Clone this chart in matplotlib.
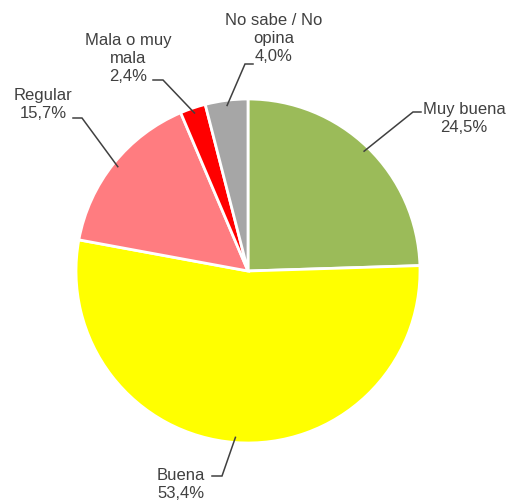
import numpy as np
import matplotlib
matplotlib.use("Agg")
import matplotlib.pyplot as plt

categories = ["Muy buena", "Buena", "Regular", "Mala o muy\nmala", "No sabe / No\nopina"]
values = [24.5, 53.4, 15.7, 2.4, 4.0]
value_labels = ["24,5%", "53,4%", "15,7%", "2,4%", "4,0%"]
colors = ["#9BBB59", "#FFFF00", "#FF7C80", "#FF0000", "#A6A6A6"]

W, H = 511, 501
fig = plt.figure(figsize=(W / 100, H / 100), dpi=100)
ax = fig.add_axes([0, 0, 1, 1])

cx, cy, r = 248, H - 271, 172
wedges, _ = ax.pie(values, colors=colors, startangle=90, counterclock=False,
                   center=(cx, cy), radius=r, frame=True,
                   wedgeprops=dict(edgecolor="white", linewidth=2))
ax.set_xlim(0, W)
ax.set_ylim(0, H)
ax.axis("off")

# label layout (pixel coords from top): text center, elbow point, end point
text_pos = [(464, 118), (181, 484), (43, 104), (128, 58), (274, 38)]
elbows = [(413, 112), (222, 476), (82, 118), (163, 80), (245, 64)]
ends = [(421, 112), (212, 476), (73, 118), (153, 80), (253, 64)]

tcol = "#404040"
for w, cat, vl, tp, el, en in zip(wedges, categories, value_labels, text_pos, elbows, ends):
    ang = np.deg2rad((w.theta1 + w.theta2) / 2)
    px = cx + r * 0.97 * np.cos(ang)
    py = cy + r * 0.97 * np.sin(ang)
    ax.plot([px, el[0], en[0]], [py, H - el[1], H - en[1]], color=tcol, lw=1.1,
            solid_joinstyle="miter")
    ax.text(tp[0], H - tp[1], cat + "\n" + vl, ha="center", va="center",
            fontsize=12, color=tcol, family="Liberation Sans", linespacing=1.25)

fig.savefig("out.png", dpi=100)
